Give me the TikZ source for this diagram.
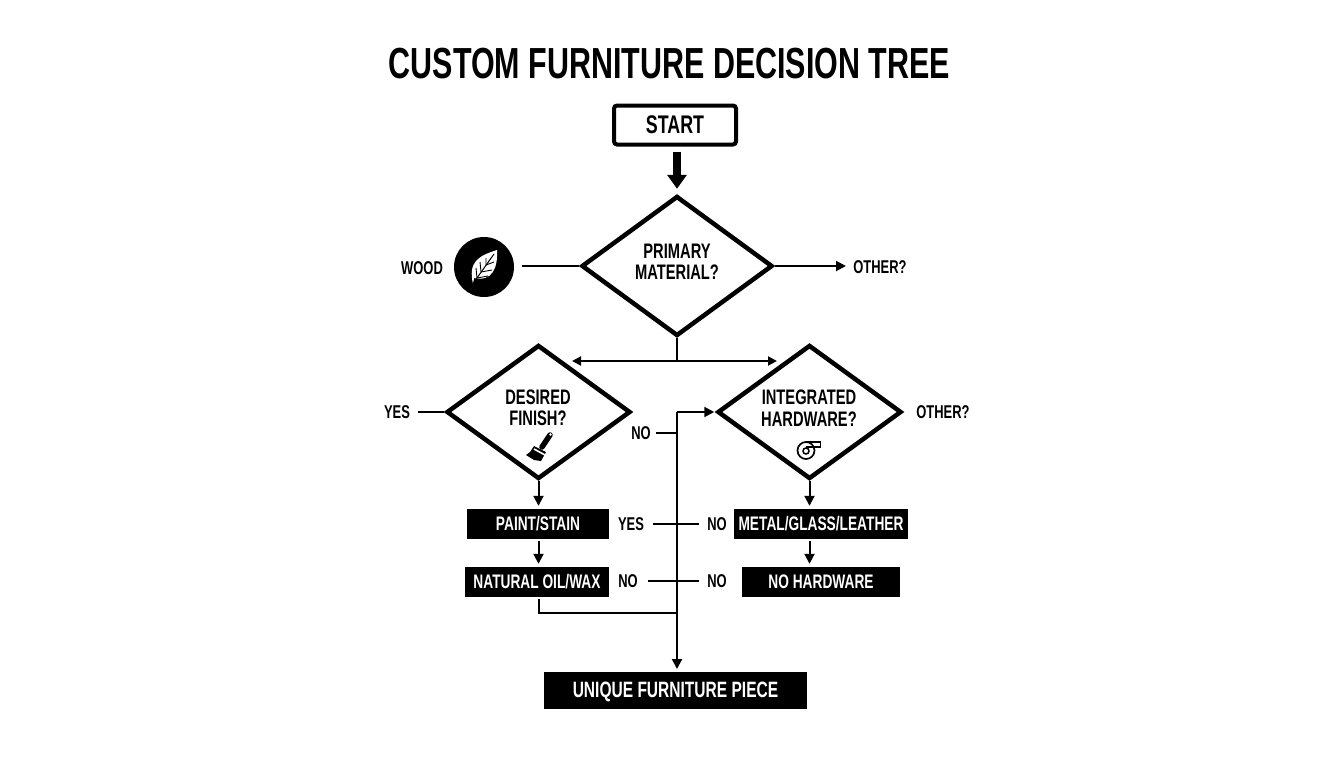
\documentclass[tikz,border=0pt]{standalone}
\usepackage{fontspec}
\setmainfont[FakeStretch=0.70]{Liberation Sans}
\usetikzlibrary{shapes.geometric,arrows.meta}
\tikzset{
  x=1pt,y=-1pt,
  txt/.style={inner sep=0pt,align=center,text=black,font=\bfseries\fontsize{21}{21.5}\selectfont},
  lbl/.style={inner sep=0pt,text=black,font=\bfseries\fontsize{18.5}{20}\selectfont},
  decide/.style={diamond,draw=black,line width=4.5pt,fill=white,inner sep=0pt,minimum width=#1},
  blackbox/.style={rectangle,fill=black,text=white,inner sep=0pt,text height=13.5pt,text depth=0pt,font=\bfseries\fontsize{19.6}{20}\selectfont},
  conn/.style={draw=black,line width=2pt},
  arr/.style={conn,-{Triangle[length=10pt,width=10pt]}},
  bigarr/.style={draw=black,line width=8pt,-{Triangle[length=14pt,width=19pt]}},
  dblarr/.style={conn,{Triangle[length=9pt,width=9pt]}-{Triangle[length=9pt,width=9pt]}},
}
\begin{document}
\begin{tikzpicture}
\useasboundingbox (0,0) rectangle (1344,768);
\fill[white] (0,0) rectangle (1344,768);
% title
\node[inner sep=0pt,font=\bfseries\fontsize{43.5}{46}\selectfont] (title) at (669.5,63.5) {CUSTOM FURNITURE DECISION TREE};
% start
\node[draw=black,line width=4pt,rounded corners=3pt,minimum width=122pt,minimum height=39pt,inner sep=0pt,font=\bfseries\fontsize{25.5}{27}\selectfont] (start) at (675,125) {START};
% decisions
\node[decide=191pt,minimum height=140pt] (primary) at (677,266) {};
\node[txt] (primarytxt) at (677,262) {PRIMARY\\MATERIAL?};
\node[decide=184pt,minimum height=134pt] (finish) at (538.5,412) {};
\node[txt] (finishtxt) at (538,408) {DESIRED\\FINISH?};
\node[decide=184pt,minimum height=134pt] (hardware) at (809.5,412) {};
\node[txt] (hardwaretxt) at (809,408) {INTEGRATED\\HARDWARE?};
% black boxes
\node[blackbox,minimum width=142pt,minimum height=30pt] (paint) at (538,524) {PAINT/STAIN};
\node[blackbox,minimum width=144pt,minimum height=30pt] (oil) at (537,582) {NATURAL OIL/WAX};
\node[blackbox,minimum width=174pt,minimum height=30pt] (metal) at (821,524) {METAL/GLASS/LEATHER};
\node[blackbox,minimum width=158pt,minimum height=30pt] (nohw) at (821,582) {NO HARDWARE};
\node[blackbox,minimum width=263pt,minimum height=37pt,text height=15pt,font=\bfseries\fontsize{22.2}{24}\selectfont] (piece) at (675.5,690) {UNIQUE FURNITURE PIECE};
% labels
\node[lbl] (wood) at (422,268) {WOOD};
\node[circle,fill=black,minimum size=60pt,inner sep=0pt] (woodicon) at (484,267) {};
\node[lbl] (other1) at (880,267) {OTHER?};
\node[lbl] (yes1) at (397,412) {YES};
\node[lbl] (no1) at (641,433) {NO};
\node[lbl] (other2) at (943,412) {OTHER?};
\node[lbl] (yes2) at (631,524) {YES};
\node[lbl] (no2) at (717,524) {NO};
\node[lbl] (no3) at (628,581) {NO};
\node[lbl] (no4) at (717,581) {NO};
% junction coordinates
\coordinate (split) at (677,361);
\coordinate (splitL) at (572,361);
\coordinate (splitR) at (777,361);
\coordinate (trunktop) at (677,412);
\coordinate (notee) at (677,433);
\coordinate (merge) at (677,613);
\coordinate (otherend) at (846,266);
\coordinate (trunkend) at (677,672);
% connectors
\draw[bigarr,shorten <=5pt,shorten >=5pt] (start.south -| primary.north) -- (primary.north);
\draw[conn,shorten <=8pt] (woodicon.east |- primary.west) -- (primary.west);
\draw[arr] (primary.east) -- (otherend);
\draw[conn] (primary.south) -- (split);
\draw[dblarr] (splitL) -- (splitR);
\draw[conn,shorten <=8pt] (yes1.east) -- (finish.west);
\draw[arr,shorten >=3pt] (finish.south) -- (finish.south |- paint.north);
\draw[arr,shorten <=2pt,shorten >=3pt] (finish.south |- paint.south) -- (finish.south |- oil.north);
\draw[conn,shorten <=2pt] (finish.south |- oil.south) -- (finish.south |- merge) -- (merge);
\draw[arr,shorten >=3pt] (hardware.south) -- (hardware.south |- metal.north);
\draw[arr,shorten <=2pt,shorten >=3pt] (hardware.south |- metal.south) -- (hardware.south |- nohw.north);
\draw[arr,shorten >=3pt] (trunktop) -- (trunkend);
\draw[arr,shorten >=1pt] (trunktop) -- (hardware.west);
\draw[conn,shorten <=5pt] (no1.east) -- (notee);
\draw[conn,shorten <=9pt,shorten >=8pt] (yes2.east) -- (no2.west);
\draw[conn,shorten <=10pt,shorten >=8pt] (no3.east) -- (no4.west);
% leaf icon
\fill[white] (473,284) .. controls (468,262) and (478,256) .. (497,250) .. controls (498,268) and (492,282) .. (474,278) -- cycle;
\draw[black,line width=1pt] (472,285) -- (494,254);
\draw[black,line width=.9pt] (477,278) -- (476,268) (481,272) -- (480,262) (486,265) -- (486,258) (477,278) -- (488,276) (481,272) -- (492,270) (486,265) -- (494,262);
% brush icon
\draw[black,line width=5.5pt,line cap=round] (550,435) -- (542,447);
\fill[white] (550.5,434.5) circle (1.4pt);
\fill[black] (534,446) -- (546,452) -- (541,461) -- (534,460) -- (526,455) -- (530,452) -- cycle;
\draw[white,line width=1.6pt] (534,449) -- (545,455);
% scroll icon
\draw[black,line width=1.7pt] (820.5,447) -- (806,447) (820.5,447) -- (820.5,442) -- (806,442);
\draw[black,line width=1.7pt] (806,450.5) circle (8.5pt);
\draw[black,line width=1.5pt] (806,451) circle (3pt);
\end{tikzpicture}
\end{document}
